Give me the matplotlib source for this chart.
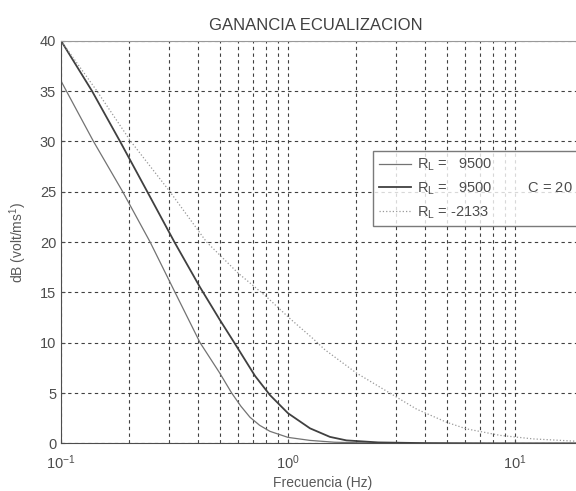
import matplotlib.pyplot as plt

plt.rcParams['font.family'] = ['Liberation Sans', 'DejaVu Sans']
plt.rcParams['mathtext.default'] = 'regular'

# curva RL = 9500
f_a = [0.1, 0.139, 0.187, 0.247, 0.318, 0.41, 0.50, 0.565, 0.62, 0.68, 0.75, 0.833, 1.0, 1.25, 1.6, 2.2, 4.0, 20.0]
g_a = [36, 30, 25, 20, 15, 10, 7.0, 5.0, 3.7, 2.6, 1.8, 1.2, 0.6, 0.3, 0.12, 0.05, 0.01, 0.0]

# curva RL = 9500, C = 20
f_b = [0.1, 0.137, 0.182, 0.240, 0.316, 0.41, 0.50, 0.584, 0.716, 0.833, 1.0, 1.25, 1.53, 1.81, 2.5, 4.0, 8.0, 20.0]
g_b = [40, 35, 30, 25, 20, 15.5, 12.3, 9.9, 6.7, 4.8, 3.0, 1.5, 0.65, 0.3, 0.1, 0.03, 0.0, 0.0]

# curva RL = -2133
f_c = [0.1, 0.144, 0.203, 0.302, 0.438, 0.604, 0.792, 1.02, 1.29, 1.455, 2.0, 2.81, 3.69, 5.0, 6.1, 8.6, 12.0, 20.0]
g_c = [40, 35, 30, 25, 20, 16.9, 14.7, 12.4, 10.4, 9.3, 7.0, 5.0, 3.4, 2.1, 1.45, 0.8, 0.45, 0.18]

etiquetas = ['R$_L$ =   9500', 'R$_L$ =   9500         C = 20', 'R$_L$ = -2133']
y_ticks = [0, 5, 10, 15, 20, 25, 30, 35, 40]

fig = plt.figure(figsize=(5.76, 4.91), dpi=100)
ax = fig.add_axes([0.1059, 0.0969, 0.9068, 0.8202])

l1, = ax.semilogx(f_a, g_a, color='0.45', lw=0.9)
l2, = ax.semilogx(f_b, g_b, color='0.25', lw=1.3)
l3, = ax.semilogx(f_c, g_c, color='0.6', lw=0.9, ls=':')

ax.set_xlim(0.1, 20)
ax.set_ylim(0, 40)
ax.set_yticks(y_ticks)
ax.set_xticks([0.1, 1, 10])
ax.set_xticklabels(['$10^{-1}$', '$10^{0}$', '$10^{1}$'])

ax.grid(True, which='both', axis='x', color='0.25', ls=(0, (3, 3)), lw=0.8)
ax.grid(True, which='major', axis='y', color='0.25', ls=(0, (3, 3)), lw=0.8)
ax.tick_params(which='both', direction='in', labelsize=10.5, colors='0.3', length=3)
ax.tick_params(axis='x', which='major', pad=7)
ax.tick_params(which='minor', length=2)
for s in ['left', 'bottom']:
    ax.spines[s].set_color('0.3')
ax.spines['top'].set_color('0.6')
ax.spines['right'].set_visible(False)

ax.set_title('GANANCIA ECUALIZACION', fontsize=12, color='0.25', x=0.488, pad=8)
ax.set_xlabel('Frecuencia (Hz)', fontsize=10, color='0.35', labelpad=3)
ax.set_ylabel('dB (volt/ms$^1$)', fontsize=10, color='0.35', labelpad=8)

leg = ax.legend([l1, l2, l3], etiquetas, loc='upper left',
                bbox_to_anchor=(0.597, 0.53, 0.45, 0.196), mode='expand',
                fontsize=10.5, frameon=True, fancybox=False, handlelength=2.2,
                handletextpad=0.4, labelspacing=0.5, borderaxespad=0)
leg.get_frame().set_edgecolor('0.35')
leg.get_frame().set_linewidth(1.0)
for t in leg.get_texts():
    t.set_color('0.3')

fig.savefig('out.png', dpi=100)
